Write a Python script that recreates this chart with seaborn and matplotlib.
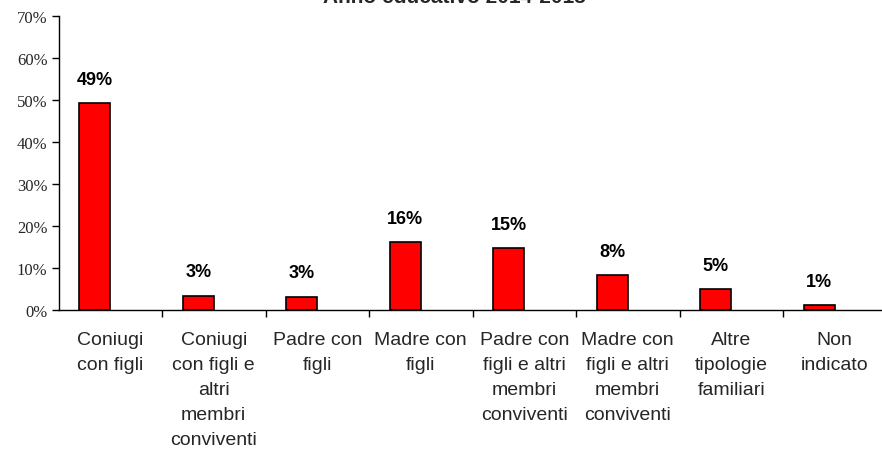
import pandas as pd
import matplotlib
matplotlib.use('Agg')
import matplotlib.pyplot as plt
import seaborn as sns

# dati (percentuali)
categorie = ['Coniugi\ncon figli',
             'Coniugi\ncon figli e\naltri\nmembri\nconviventi',
             'Padre con\nfigli',
             'Madre con\nfigli',
             'Padre con\nfigli e altri\nmembri\nconviventi',
             'Madre con\nfigli e altri\nmembri\nconviventi',
             'Altre\ntipologie\nfamiliari',
             'Non\nindicato']
valori = [49.2, 3.4, 3.2, 16.2, 14.8, 8.3, 4.9, 1.1]
etichette = ['49%', '3%', '3%', '16%', '15%', '8%', '5%', '1%']
yticks = [0, 10, 20, 30, 40, 50, 60, 70]
titolo = 'Anno educativo 2014-2015'

sns.set_style('white')
plt.rcParams['font.family'] = ['Liberation Sans', 'DejaVu Sans']

# seconda serie vuota, come nel foglio Excel originale (sposta le barre a sinistra)
df = pd.DataFrame({
    'Tipologia': categorie * 2,
    'Valore': valori + [0] * len(valori),
    'Serie': ['A'] * len(valori) + ['B'] * len(valori),
})

fig = plt.figure(figsize=(8.82, 4.52), dpi=100)
ax = fig.add_axes([58.5 / 882, 141 / 452, 828 / 882, 294 / 452])

sns.barplot(data=df, x='Tipologia', y='Valore', hue='Serie', hue_order=['A', 'B'],
            palette=['#ff0000', '#ff0000'], saturation=1, width=0.6, edgecolor='black',
            linewidth=1.2, errorbar=None, legend=False, ax=ax)

# nascondi la serie vuota
for cont in ax.containers[1:]:
    for p in cont:
        p.set_visible(False)

ax.bar_label(ax.containers[0], labels=etichette, padding=11,
             fontsize=13, fontweight='bold', color='black')

ax.set_ylim(0, 70)
ax.set_xlim(-0.5, len(categorie) - 0.5)
ax.set_yticks(yticks)
ax.set_yticklabels([f'{v}%' for v in yticks], family='Liberation Serif', fontsize=12)
ax.tick_params(axis='y', length=5, width=1, color='black', pad=3, direction='out', left=True)
ax.set_xticks(range(len(categorie)))
ax.set_xticklabels(categorie, fontsize=14, linespacing=1.62)
ax.set_xticks([i + 0.5 for i in range(len(categorie) - 1)], minor=True)
ax.tick_params(axis='x', which='major', length=0, pad=15)
ax.tick_params(axis='x', which='minor', length=5, width=1, color='black', direction='out', bottom=True)
ax.set_xlabel('')
ax.set_ylabel('')

for s in ['top', 'right']:
    ax.spines[s].set_visible(False)
for s in ['left', 'bottom']:
    ax.spines[s].set_color('black')
    ax.spines[s].set_linewidth(1)

fig.text(454 / 882, 1 - 3 / 452, titolo, ha='center', va='baseline',
         fontsize=15, fontweight='bold')

fig.savefig('out.png', dpi=100)
